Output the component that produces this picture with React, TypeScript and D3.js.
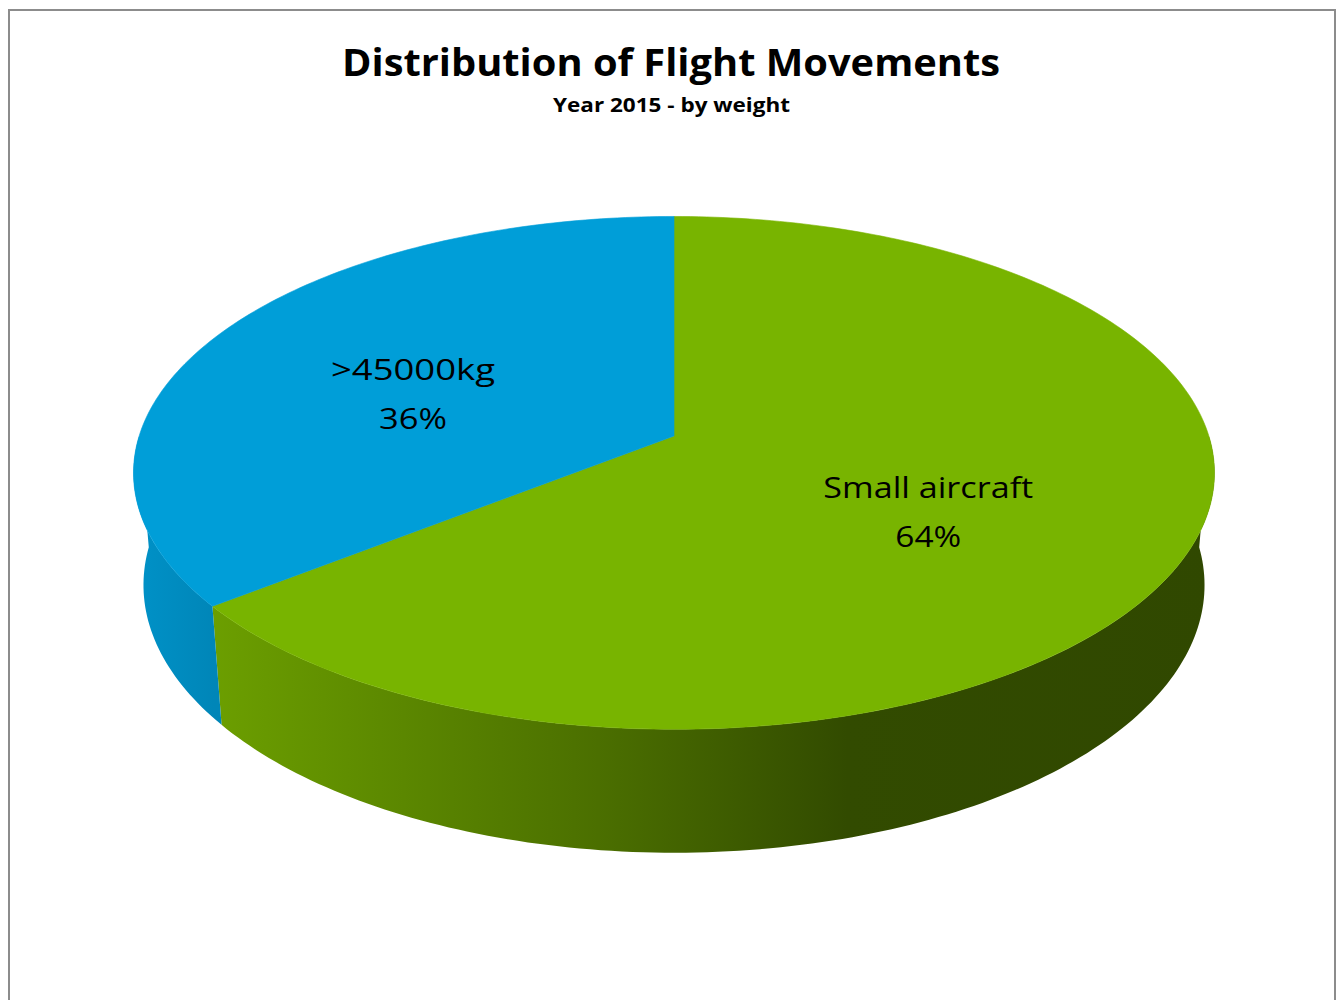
import React from "react";
import * as d3 from "d3";

// ---- data ----
const categories = ["Small aircraft", ">45000kg"];
const values = [64.4, 35.6];
const percentLabels = ["64%", "36%"];
const titleText = "Distribution of Flight Movements";
const subtitleText = "Year 2015 - by weight";

// ---- styles ----
const topColors = ["#78b400", "#009ed8"];
const sideStops = [
  [
    [0.0, "#6fa300"],
    [0.071, "#6c9f00"],
    [0.25, "#5b8700"],
    [0.43, "#4b6f00"],
    [0.66, "#324b00"],
    [1.0, "#304800"],
  ],
  [
    [0.0, "#0092c8"],
    [0.075, "#0086b8"],
    [1.0, "#0086b8"],
  ],
];
const FONT = "'Open Sans', Lato, sans-serif";

// ---- 3D projection (perspective) ----
const ELEV = (28 * Math.PI) / 180;
const DIST = 6.14;
const FOCAL = 3284;
const CX = 674;
const CY = 436;
const THICK = 0.24;

function project(X: number, Y: number, Z: number): [number, number] {
  const depth = DIST - (Z * Math.cos(ELEV) + Y * Math.sin(ELEV));
  const up = Y * Math.cos(ELEV) - Z * Math.sin(ELEV);
  return [CX + (FOCAL * X) / depth, CY - (FOCAL * up) / depth];
}
function rim(psi: number, y: number, r = 1): [number, number] {
  return project(r * Math.sin(psi), y, -r * Math.cos(psi));
}
function samples(a: number, b: number): number[] {
  const n = Math.max(2, Math.ceil(((b - a) * 180) / Math.PI));
  return d3.range(n + 1).map((i) => a + ((b - a) * i) / n);
}

const line = d3.line<[number, number]>();

export default function App() {
  const arcs = d3
    .pie<number>()
    .sort(null)
    .value((d) => d)(values);

  const leftX = project(-1, 0, 0)[0] - 6;
  const rightX = project(1, 0, 0)[0] + 6;

  const sides = arcs.map((a, i) => {
    const s = Math.max(a.startAngle, Math.PI / 2);
    const e = Math.min(a.endAngle, (3 * Math.PI) / 2);
    if (e <= s) return null;
    const pts = samples(s, e);
    const top = pts.map((p) => rim(p, 0));
    const bot = pts
      .slice()
      .reverse()
      .map((p) => rim(p, -THICK));
    return <path key={"s" + i} d={line([...top, ...bot])! + "Z"} fill={`url(#side${i})`} />;
  });

  const tops = arcs.map((a, i) => {
    const pts = samples(a.startAngle, a.endAngle).map((p) => rim(p, 0));
    const c = project(0, 0, 0);
    return (
      <path
        key={"t" + i}
        d={line([c, ...pts])! + "Z"}
        fill={topColors[i]}
        stroke={topColors[i]}
        strokeWidth={0.6}
      />
    );
  });

  const labels = arcs.map((a, i) => {
    const mid = (a.startAngle + a.endAngle) / 2;
    const [px, py] = rim(mid, 0, 0.535);
    const x = px - 12;
    const widths = [
      [210, 66],
      [164, 68],
    ][i];
    return (
      <g key={"l" + i} fontFamily={FONT} fontSize={30} fill="#000" textAnchor="middle">
        <text x={x} y={py + 1} textLength={widths[0]} lengthAdjust="spacingAndGlyphs">
          {categories[i]}
        </text>
        <text x={x} y={py + 50} textLength={widths[1]} lengthAdjust="spacingAndGlyphs">
          {percentLabels[i]}
        </text>
      </g>
    );
  });

  return (
    <svg
      width={1341}
      height={1000}
      style={{ position: "absolute", left: 0, top: 0, display: "block" }}
    >
      <defs>
        {sideStops.map((stops, i) => (
          <linearGradient
            key={i}
            id={`side${i}`}
            gradientUnits="userSpaceOnUse"
            x1={leftX}
            x2={rightX}
            y1={0}
            y2={0}
          >
            {stops.map(([o, c], j) => (
              <stop key={j} offset={o as number} stopColor={c as string} />
            ))}
          </linearGradient>
        ))}
      </defs>
      <rect x={0} y={0} width={1341} height={1000} fill="#fff" />
      <rect x={9} y={10} width={1326} height={1100} fill="#fff" stroke="#8c8c8c" strokeWidth={2} />
      <text
        x={671}
        y={76}
        textAnchor="middle"
        fontFamily={FONT}
        fontWeight="bold"
        fontSize={38}
        textLength={658}
        lengthAdjust="spacingAndGlyphs"
      >
        {titleText}
      </text>
      <text
        x={671.5}
        y={112}
        textAnchor="middle"
        fontFamily={FONT}
        fontWeight="bold"
        fontSize={20}
        textLength={237}
        lengthAdjust="spacingAndGlyphs"
      >
        {subtitleText}
      </text>
      {sides}
      {tops}
      {labels}
    </svg>
  );
}
